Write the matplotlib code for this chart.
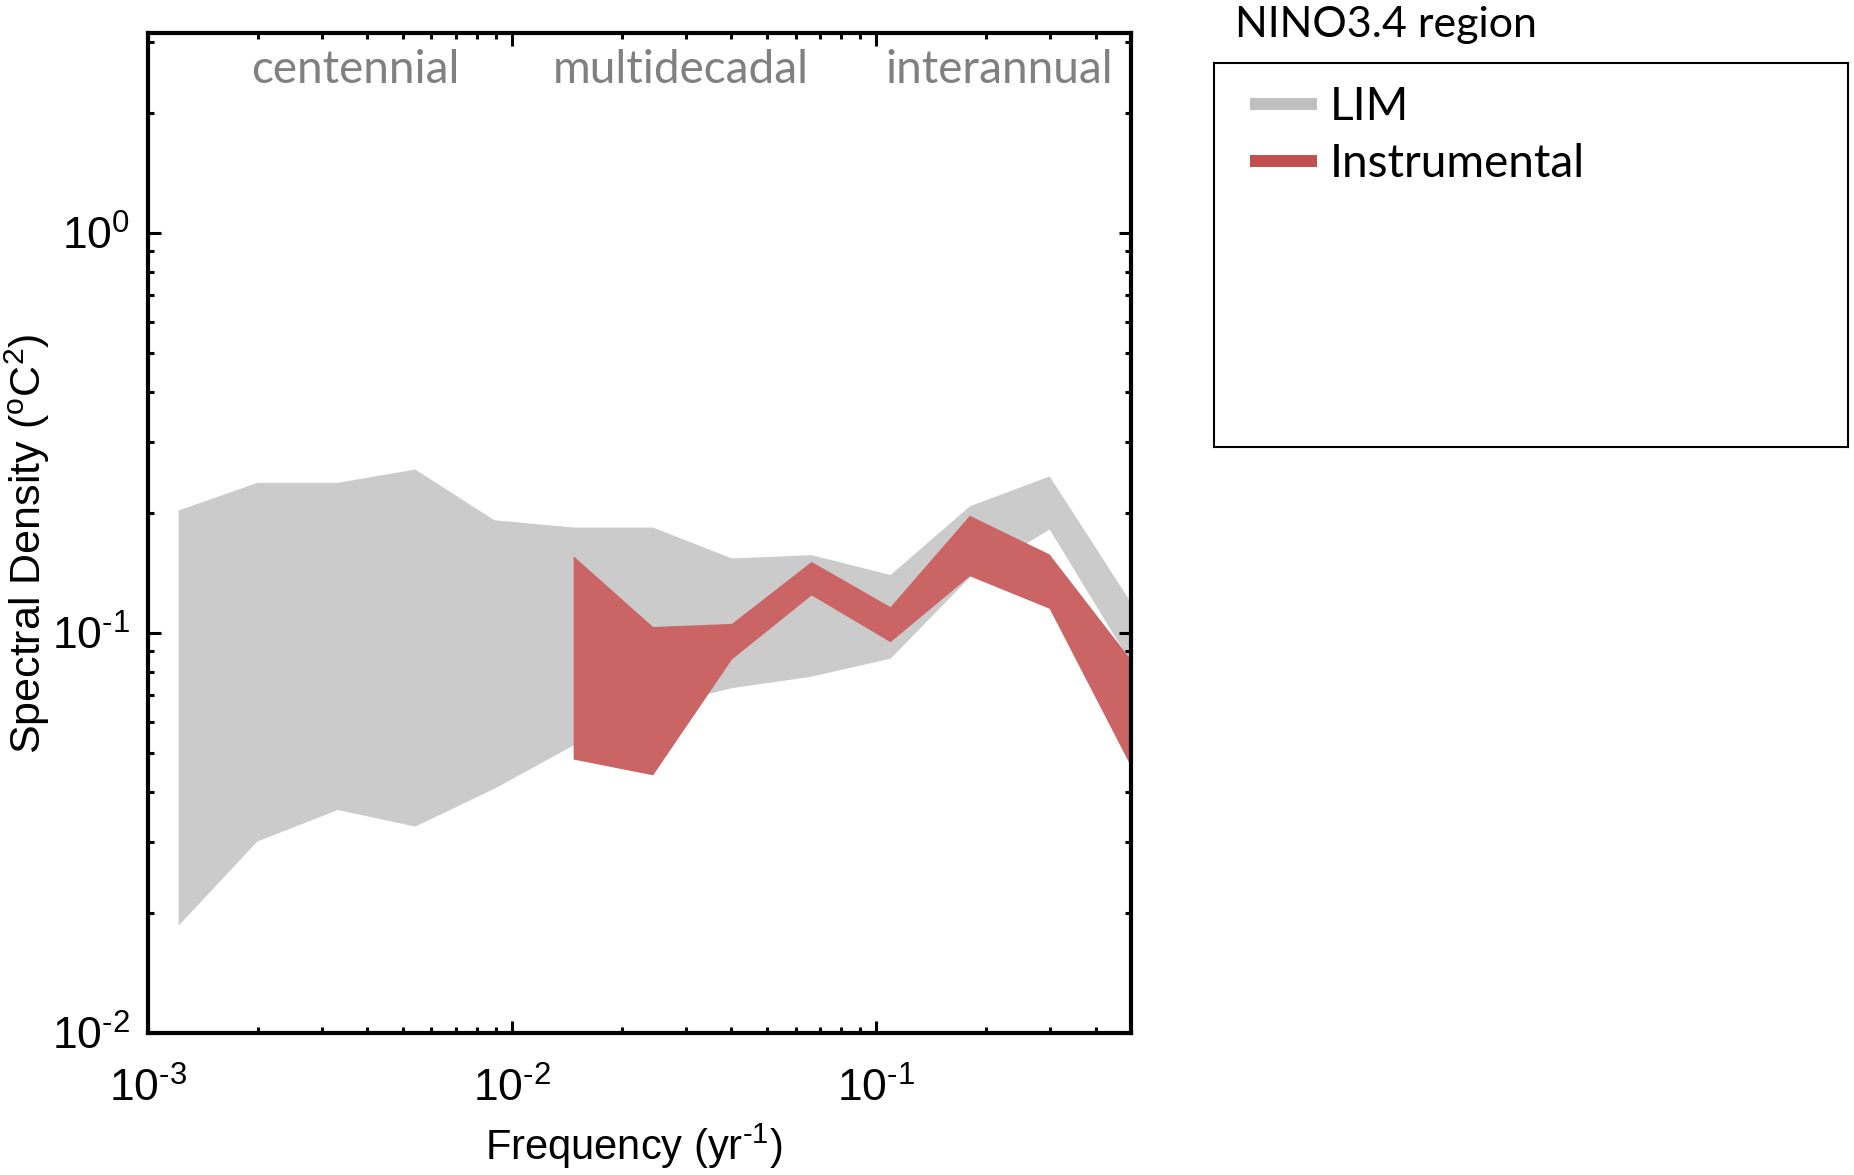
import math
import matplotlib
matplotlib.use("Agg")
import matplotlib.pyplot as plt
from matplotlib.lines import Line2D
from matplotlib.ticker import LogLocator, NullFormatter, FuncFormatter

# ---------------- data ----------------
freq_lim = [0.00121, 0.00199, 0.00331, 0.0054, 0.0089, 0.0147, 0.0243,
            0.0400, 0.0662, 0.109, 0.180, 0.298, 0.5]
lim_upper = [0.203, 0.238, 0.238, 0.257, 0.192, 0.184, 0.184,
             0.154, 0.157, 0.140, 0.208, 0.247, 0.119]
lim_lower = [0.0186, 0.0302, 0.0362, 0.0329, 0.0409, 0.0525, 0.0653,
             0.073, 0.078, 0.0865, 0.138, 0.182, 0.084]

freq_instr = [0.0147, 0.0243, 0.0400, 0.0662, 0.109, 0.180, 0.298, 0.5]
instr_upper = [0.156, 0.1038, 0.1057, 0.151, 0.1164, 0.197, 0.1576, 0.0856]
instr_lower = [0.0484, 0.0442, 0.0861, 0.1245, 0.0951, 0.139, 0.1153, 0.0463]

band_labels = ["centennial", "multidecadal", "interannual"]
legend_labels = ["LIM", "Instrumental"]
title_text = "NINO3.4 region"

# ---------------- style ----------------
plt.rcParams["font.family"] = ["Liberation Sans", "DejaVu Sans"]
plt.rcParams["mathtext.fontset"] = "custom"
plt.rcParams["mathtext.rm"] = "Liberation Sans"
plt.rcParams["mathtext.it"] = "Liberation Sans:italic"
plt.rcParams["mathtext.bf"] = "Liberation Sans:bold"
plt.rcParams["mathtext.default"] = "rm"

W, H = 1854, 1175
fig = plt.figure(figsize=(W / 100, H / 100), dpi=100)

ax_l, ax_r, ax_t, ax_b = 148, 1131, 33, 1033
ax = fig.add_axes([ax_l / W, 1 - ax_b / H, (ax_r - ax_l) / W, (ax_b - ax_t) / H])

grey_fill = "#cbcbcb"
red_fill = "#cb6565"

ax.fill_between(freq_lim, lim_lower, lim_upper, color=grey_fill, lw=0, zorder=1)
ax.fill_between(freq_instr, instr_lower, instr_upper, color=red_fill, lw=0, zorder=2)

ax.set_xscale("log")
ax.set_yscale("log")
ax.set_xlim(1e-3, 0.5)
ax.set_ylim(1e-2, 10 ** 0.5)

ax.xaxis.set_major_locator(LogLocator(base=10, numticks=10))
ax.yaxis.set_major_locator(LogLocator(base=10, numticks=10))
ax.xaxis.set_minor_locator(LogLocator(base=10, subs=range(2, 10), numticks=20))
ax.yaxis.set_minor_locator(LogLocator(base=10, subs=range(2, 10), numticks=20))
ax.xaxis.set_minor_formatter(NullFormatter())
ax.yaxis.set_minor_formatter(NullFormatter())


def fmt(v, pos=None):
    e = int(round(math.log10(v)))
    sign = "\u2010" if e < 0 else ""
    return r"$10^{%s%d}$" % (sign, abs(e))


ax.xaxis.set_major_formatter(FuncFormatter(fmt))
ax.yaxis.set_major_formatter(FuncFormatter(fmt))

ax.tick_params(which="both", direction="in", top=True, right=True, width=2.2, colors="black")
ax.tick_params(which="major", length=9, labelsize=32)
ax.tick_params(axis="x", which="major", pad=25)
ax.tick_params(axis="y", which="major", pad=13)
ax.tick_params(which="minor", length=4.5)
for s in ax.spines.values():
    s.set_linewidth(3)
    s.set_zorder(5)

ax.set_xlabel("Frequency (yr$^{\u20101}$)", fontsize=30)
ax.set_ylabel(r"Spectral Density ($^{\rm o}$C$^{2}$)", fontsize=31)
ax.xaxis.set_label_coords(0.494, -0.089)
ax.yaxis.set_label_coords(-0.098, 0.489)

band_x = [0.2106, 0.542, 0.866]
for lbl, bx in zip(band_labels, band_x):
    ax.text(bx, 0.95, lbl, transform=ax.transAxes, ha="center", va="baseline",
            fontsize=33, color="#808080", family=["Lato", "DejaVu Sans"], zorder=6)

# ---------------- legend box ----------------
lb_l, lb_r, lb_t, lb_b = 1214, 1848, 63, 447
lax = fig.add_axes([lb_l / W, 1 - lb_b / H, (lb_r - lb_l) / W, (lb_b - lb_t) / H])
lax.set_xticks([])
lax.set_yticks([])
for s in lax.spines.values():
    s.set_linewidth(1.5)
handles = [Line2D([], [], color="#c0c0c0", lw=8.6, solid_capstyle="butt"),
           Line2D([], [], color="#c0504d", lw=8.6, solid_capstyle="butt")]
lax.legend(handles, legend_labels, loc="upper left", bbox_to_anchor=(0.057, 0.94),
           frameon=False, borderpad=0, borderaxespad=0, handlelength=1.46,
           handletextpad=0.28, labelspacing=0.32,
           prop={"family": ["Lato", "DejaVu Sans"], "size": 33})

fig.text(1235 / W, 1 - 37 / H, title_text, ha="left", va="baseline",
         fontsize=31, family=["Lato", "DejaVu Sans"], color="black")

fig.savefig("out.png", dpi=100)
